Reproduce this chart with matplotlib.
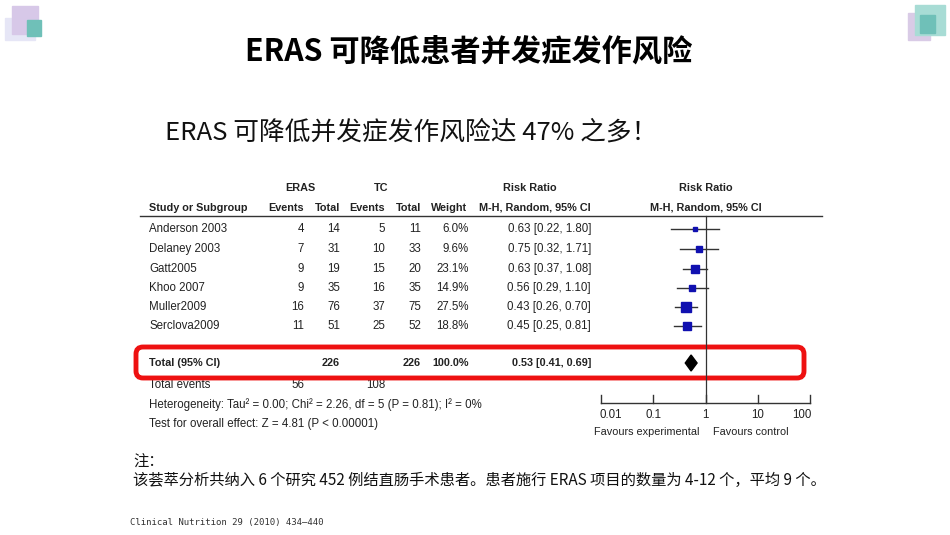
import numpy as np
import matplotlib.pyplot as plt
from matplotlib.patches import Rectangle, FancyBboxPatch

plt.rcParams['font.family'] = ['Noto Sans CJK SC', 'DejaVu Sans']

# forest plot data
studies = ["Anderson 2003", "Delaney 2003", "Gatt2005", "Khoo 2007", "Muller2009", "Serclova2009"]
eras_events = [4, 7, 9, 9, 16, 11]
eras_total = [14, 31, 19, 35, 76, 51]
tc_events = [5, 10, 15, 16, 37, 25]
tc_total = [11, 33, 20, 35, 75, 52]
weights = [6.0, 9.6, 23.1, 14.9, 27.5, 18.8]
rr = [0.63, 0.75, 0.63, 0.56, 0.43, 0.45]
rr_lo = [0.22, 0.32, 0.37, 0.29, 0.26, 0.25]
rr_hi = [1.80, 1.71, 1.08, 1.10, 0.70, 0.81]
total_rr, total_lo, total_hi = 0.53, 0.41, 0.69
axis_ticks = [0.01, 0.1, 1, 10, 100]
tick_labels = ["0.01", "0.1", "1", "10", "100"]

W, H = 950, 535
fig = plt.figure(figsize=(9.5, 5.35), dpi=100)
fig.patch.set_facecolor('white')
bg = fig.add_axes([0, 0, 1, 1])
bg.set_xlim(0, W)
bg.set_ylim(H, 0)
bg.axis('off')

# corner decorations
bg.add_patch(Rectangle((5, 18), 30, 22, color='#e6e6f6', zorder=1))
bg.add_patch(Rectangle((12, 6), 26, 28, color='#d7c8e8', zorder=2))
bg.add_patch(Rectangle((27, 20), 14, 16, color='#6fc0b8', zorder=3))
bg.add_patch(Rectangle((908, 13), 22, 27, color='#d9cbe6', zorder=1))
bg.add_patch(Rectangle((915, 5), 30, 30, color='#a8dcd5', zorder=2))
bg.add_patch(Rectangle((920, 15), 15, 18, color='#6fc0b8', zorder=3))

bg.text(469, 52, "ERAS 可降低患者并发症发作风险", ha='center', va='center',
        fontsize=21.8, fontweight='bold', color='black')
bg.text(165, 133, "ERAS 可降低并发症发作风险达 47% 之多！", ha='left', va='center',
        fontsize=18.5, color='#111111')

tf = dict(family=['Liberation Sans', 'DejaVu Sans'], fontsize=8.3, color='#222222')
tb = dict(tf, fontweight='bold', fontsize=7.8)

# headers
bg.text(300, 188, "ERAS", ha='center', va='center', **tb)
bg.text(381, 188, "TC", ha='center', va='center', **tb)
bg.text(530, 188, "Risk Ratio", ha='center', va='center', **tb)
bg.text(706, 188, "Risk Ratio", ha='center', va='center', **tb)
bg.text(149, 208, "Study or Subgroup", ha='left', va='center', **tb)
for x, s in [(304, "Events"), (340, "Total"), (385, "Events"), (421, "Total"), (467, "Weight")]:
    bg.text(x, 208, s, ha='right', va='center', **tb)
bg.text(591, 208, "M-H, Random, 95% CI", ha='right', va='center', **tb)
bg.text(706, 208, "M-H, Random, 95% CI", ha='center', va='center', **tb)
bg.plot([140, 822], [216, 216], color='#333333', lw=1)

row_y = [229, 249, 269, 288, 307, 326]
for i, y in enumerate(row_y):
    bg.text(149, y, studies[i], ha='left', va='center', **tf)
    bg.text(304, y, str(eras_events[i]), ha='right', va='center', **tf)
    bg.text(340, y, str(eras_total[i]), ha='right', va='center', **tf)
    bg.text(385, y, str(tc_events[i]), ha='right', va='center', **tf)
    bg.text(421, y, str(tc_total[i]), ha='right', va='center', **tf)
    bg.text(469, y, f"{weights[i]:.1f}%", ha='right', va='center', **tf)
    bg.text(591, y, f"{rr[i]:.2f} [{rr_lo[i]:.2f}, {rr_hi[i]:.2f}]", ha='right', va='center', **tf)

ty = 363
bg.text(149, ty, "Total (95% CI)", ha='left', va='center', **tb)
bg.text(340, ty, str(sum(eras_total)), ha='right', va='center', **tb)
bg.text(421, ty, str(sum(tc_total)), ha='right', va='center', **tb)
bg.text(469, ty, "100.0%", ha='right', va='center', **tb)
bg.text(591, ty, f"{total_rr:.2f} [{total_lo:.2f}, {total_hi:.2f}]", ha='right', va='center', **tb)
bg.text(149, 385, "Total events", ha='left', va='center', **tf)
bg.text(304, 385, str(sum(eras_events)), ha='right', va='center', **tf)
bg.text(385, 385, str(sum(tc_events)), ha='right', va='center', **tf)
bg.text(149, 405, "Heterogeneity: Tau² = 0.00; Chi² = 2.26, df = 5 (P = 0.81); I² = 0%",
        ha='left', va='center', **tf)
bg.text(149, 424, "Test for overall effect: Z = 4.81 (P < 0.00001)", ha='left', va='center', **tf)

bg.add_patch(FancyBboxPatch((136, 347), 668, 31, boxstyle="round,pad=0,rounding_size=7",
                            fill=False, ec='#ee1111', lw=3.5, zorder=5))

# forest axes in pixel rows
x0, x1, y0, y1 = 601, 810, 180, 404
fax = fig.add_axes([x0 / W, 1 - y1 / H, (x1 - x0) / W, (y1 - y0) / H])
fax.set_xscale('log')
fax.set_xlim(0.01, 100)
fax.set_ylim(y1, y0)
fax.axis('off')
fax.patch.set_alpha(0)
fax.plot([1, 1], [216, y1], color='#333333', lw=0.9)
for i, y in enumerate(row_y):
    fax.plot([rr_lo[i], rr_hi[i]], [y, y], color='#333333', lw=1)
    fax.plot(rr[i], y, 's', color='#1010b0', ms=2 + weights[i] * 0.17)
fax.fill([total_lo, total_rr, total_hi, total_rr], [ty, ty - 8, ty, ty + 8], color='black')
fax.plot([0.01, 100], [y1 - 1, y1 - 1], color='#333333', lw=1, clip_on=False)
for t in axis_ticks:
    fax.plot([t, t], [y1 - 1, y1 - 9], color='#333333', lw=1, clip_on=False)

for t, lab in zip(axis_ticks, tick_labels):
    px = x0 + (np.log10(t) + 2) / 4 * (x1 - x0)
    bg.text(px + (10 if t == 0.01 else (-8 if t == 100 else 0)), 415, lab,
            ha='center', va='center', **tf)
bg.text(647, 432, "Favours experimental", ha='center', va='center', **dict(tf, fontsize=7.8))
bg.text(751, 432, "Favours control", ha='center', va='center', **dict(tf, fontsize=7.8))

bg.text(133, 462, "注：", ha='left', va='center', fontsize=11, color='#111111')
bg.text(133, 480, "该荟萃分析共纳入 6 个研究 452 例结直肠手术患者。患者施行 ERAS 项目的数量为 4-12 个，平均 9 个。",
        ha='left', va='center', fontsize=11, color='#111111')
bg.text(130, 523, "Clinical Nutrition 29 (2010) 434–440", ha='left', va='center',
        fontsize=6.5, family=['DejaVu Sans Mono'], color='#333333')

fig.savefig('out.png', dpi=100)
